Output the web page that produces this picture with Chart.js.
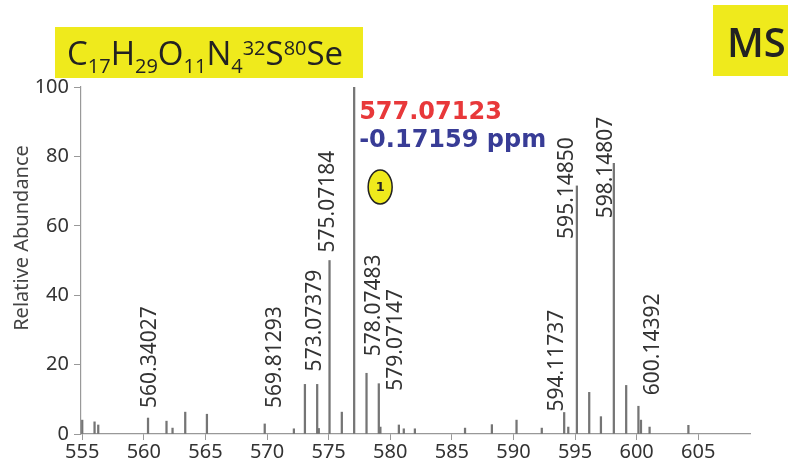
<!DOCTYPE html>
<html>
<head>
<meta charset="utf-8">
<script src="https://cdn.jsdelivr.net/npm/chart.js@4.4.0/dist/chart.umd.min.js"></script>
<style>
  html, body { margin: 0; padding: 0; background: #fff; }
  #wrap { width: 788px; height: 469px; position: relative; }
</style>
</head>
<body>
<div id="wrap"><canvas id="myChart" width="788" height="469"></canvas></div>
<script>
// peaks: m/z and relative abundance (%)
var mz = [555.0, 556.0, 556.3, 560.34027, 561.84, 562.33, 563.36, 565.12, 569.81293, 572.18,
          573.07379, 574.07, 574.2, 575.07184, 576.07, 577.07123, 578.07483, 579.07147, 579.2, 580.7,
          581.1, 582.0, 586.07, 588.25, 590.25, 592.3, 594.11737, 594.45, 595.14850, 596.15,
          597.1, 598.14807, 599.15, 600.14392, 600.35, 601.05, 604.2];
var abundance = [4.0, 3.5, 2.6, 4.6, 3.7, 1.7, 6.3, 5.7, 2.9, 1.5,
                 14.3, 14.3, 1.6, 50.0, 6.3, 100, 17.5, 14.5, 2.0, 2.6,
                 1.5, 1.5, 1.7, 2.7, 4.0, 1.7, 6.2, 2.0, 71.5, 12.0,
                 5.0, 78.0, 14.0, 8.0, 4.0, 2.0, 2.5];

// labelled peaks
var labelMz = [560.34027, 569.81293, 573.07379, 575.07184, 578.07483, 579.07147, 594.11737, 595.14850, 598.14807, 600.14392];
var labelText = ["560.34027", "569.81293", "573.07379", "575.07184", "578.07483", "579.07147", "594.11737", "595.14850", "598.14807", "600.14392"];

var xTicks = [555, 560, 565, 570, 575, 580, 585, 590, 595, 600, 605];
var yTicks = [0, 20, 40, 60, 80, 100];

var basePeakMz = 577.07123;
var basePeakText = "577.07123";
var ppmText = "-0.17159 ppm";
var formula = [["C", 0], ["17", -1], ["H", 0], ["29", -1], ["O", 0], ["11", -1], ["N", 0], ["4", -1], ["32", 1], ["S", 0], ["80", 1], ["Se", 0]];
var modeText = "MS";
var yTitle = "Relative Abundance";

// label offsets in px (dx from the line, gap above the peak top)
var labelDx = [2, 10, 10, -2, 7, 17, -7, -10, -8, 15];
var labelGap = [10, 16, 13, 8, 17, -7, 1, -53, -55, 11];

var peaks = mz.map(function (m, i) { return { x: m, y: abundance[i] }; });

var YELLOW = "#efea1c";

var annotations = {
    id: "annotations",
    afterDatasetsDraw: function (chart) {
        var ctx = chart.ctx;
        var xs = chart.scales.x, ys = chart.scales.y;

        // rotated peak labels
        ctx.save();
        ctx.font = "21px 'Noto Sans'";
        ctx.fillStyle = "#333";
        ctx.textAlign = "left";
        ctx.textBaseline = "middle";
        labelMz.forEach(function (m, i) {
            var idx = mz.indexOf(m);
            var px = xs.getPixelForValue(m) + labelDx[i];
            var py = ys.getPixelForValue(abundance[idx]) - labelGap[i];
            ctx.save();
            ctx.translate(px, py);
            ctx.rotate(-Math.PI / 2);
            ctx.fillText(labelText[i], 0, 0);
            ctx.restore();
        });
        ctx.restore();

        // base peak mass and ppm error
        var bx = xs.getPixelForValue(basePeakMz) + 5;
        var top = chart.chartArea.top;
        ctx.save();
        ctx.textAlign = "left";
        ctx.textBaseline = "alphabetic";
        ctx.font = "bold 24px 'DejaVu Sans'";
        ctx.fillStyle = "#e8383a";
        ctx.fillText(basePeakText, bx, top + 32);
        ctx.fillStyle = "#383c96";
        ctx.fillText(ppmText, bx, top + 60);

        // yellow ellipse with "1"
        var ex = bx + 21, ey = top + 100;
        ctx.beginPath();
        ctx.ellipse(ex, ey, 12, 17, 0, 0, Math.PI * 2);
        ctx.fillStyle = YELLOW;
        ctx.fill();
        ctx.lineWidth = 1.5;
        ctx.strokeStyle = "#222";
        ctx.stroke();
        ctx.fillStyle = "#222";
        ctx.font = "bold 13px 'DejaVu Sans'";
        ctx.textAlign = "center";
        ctx.textBaseline = "middle";
        ctx.fillText("1", ex, ey + 1);
        ctx.restore();
    },
    afterDraw: function (chart) {
        var ctx = chart.ctx;
        ctx.save();
        // y axis title
        ctx.fillStyle = "#444";
        ctx.font = "20px 'Noto Sans'";
        ctx.textAlign = "center";
        ctx.textBaseline = "middle";
        ctx.translate(22, 238);
        ctx.rotate(-Math.PI / 2);
        ctx.fillText(yTitle, 0, 0);
        ctx.restore();

        ctx.save();
        // formula box
        ctx.fillStyle = YELLOW;
        ctx.fillRect(55, 27, 308, 51);
        ctx.fillStyle = "#222";
        ctx.textBaseline = "alphabetic";
        ctx.textAlign = "left";
        var x = 67;
        formula.forEach(function (p) {
            if (p[1] === 0) {
                ctx.font = "33px 'Open Sans'";
                ctx.fillText(p[0], x, 65);
            } else if (p[1] < 0) {
                ctx.font = "20px 'Open Sans'";
                ctx.fillText(p[0], x, 73);
            } else {
                ctx.font = "20px 'Open Sans'";
                ctx.fillText(p[0], x, 55);
            }
            x += ctx.measureText(p[0]).width;
        });

        // MS box
        ctx.fillStyle = YELLOW;
        ctx.fillRect(713, 5, 80, 71);
        ctx.fillStyle = "#222";
        ctx.font = "600 40px 'Open Sans'";
        ctx.fillText(modeText, 727, 57);
        ctx.restore();
    }
};

var myChart = document.getElementById("myChart").getContext("2d");
var chart = new Chart(myChart, {
    type: "bar",
    data: {
        datasets: [{
            data: peaks,
            backgroundColor: "#757575",
            barThickness: 1.6,
            grouped: false
        }]
    },
    options: {
        responsive: false,
        animation: false,
        layout: { padding: { top: 87, right: 38, left: 0, bottom: 0 } },
        plugins: { legend: { display: false }, tooltip: { enabled: false } },
        scales: {
            x: {
                type: "linear",
                min: 554.9,
                max: 609.2,
                offset: false,
                grid: { drawOnChartArea: false, tickLength: 6, color: "#999", offset: false },
                border: { color: "#999", width: 1.2 },
                ticks: {
                    includeBounds: false,
                    font: { family: "Noto Sans", size: 20 },
                    color: "#333",
                    padding: 0,
                    maxRotation: 0
                },
                afterBuildTicks: function (s) { s.ticks = xTicks.map(function (v) { return { value: v }; }); },
                afterFit: function (s) { s.height = 35; }
            },
            y: {
                min: 0,
                max: 100,
                grid: { drawOnChartArea: false, tickLength: 7, color: "#999" },
                border: { color: "#999", width: 1.2 },
                ticks: {
                    font: { family: "Noto Sans", size: 20 },
                    color: "#333",
                    padding: 5
                },
                afterBuildTicks: function (s) { s.ticks = yTicks.map(function (v) { return { value: v }; }); },
                afterFit: function (s) { s.width = 81; }
            }
        }
    },
    plugins: [annotations]
});
</script>
</body>
</html>
